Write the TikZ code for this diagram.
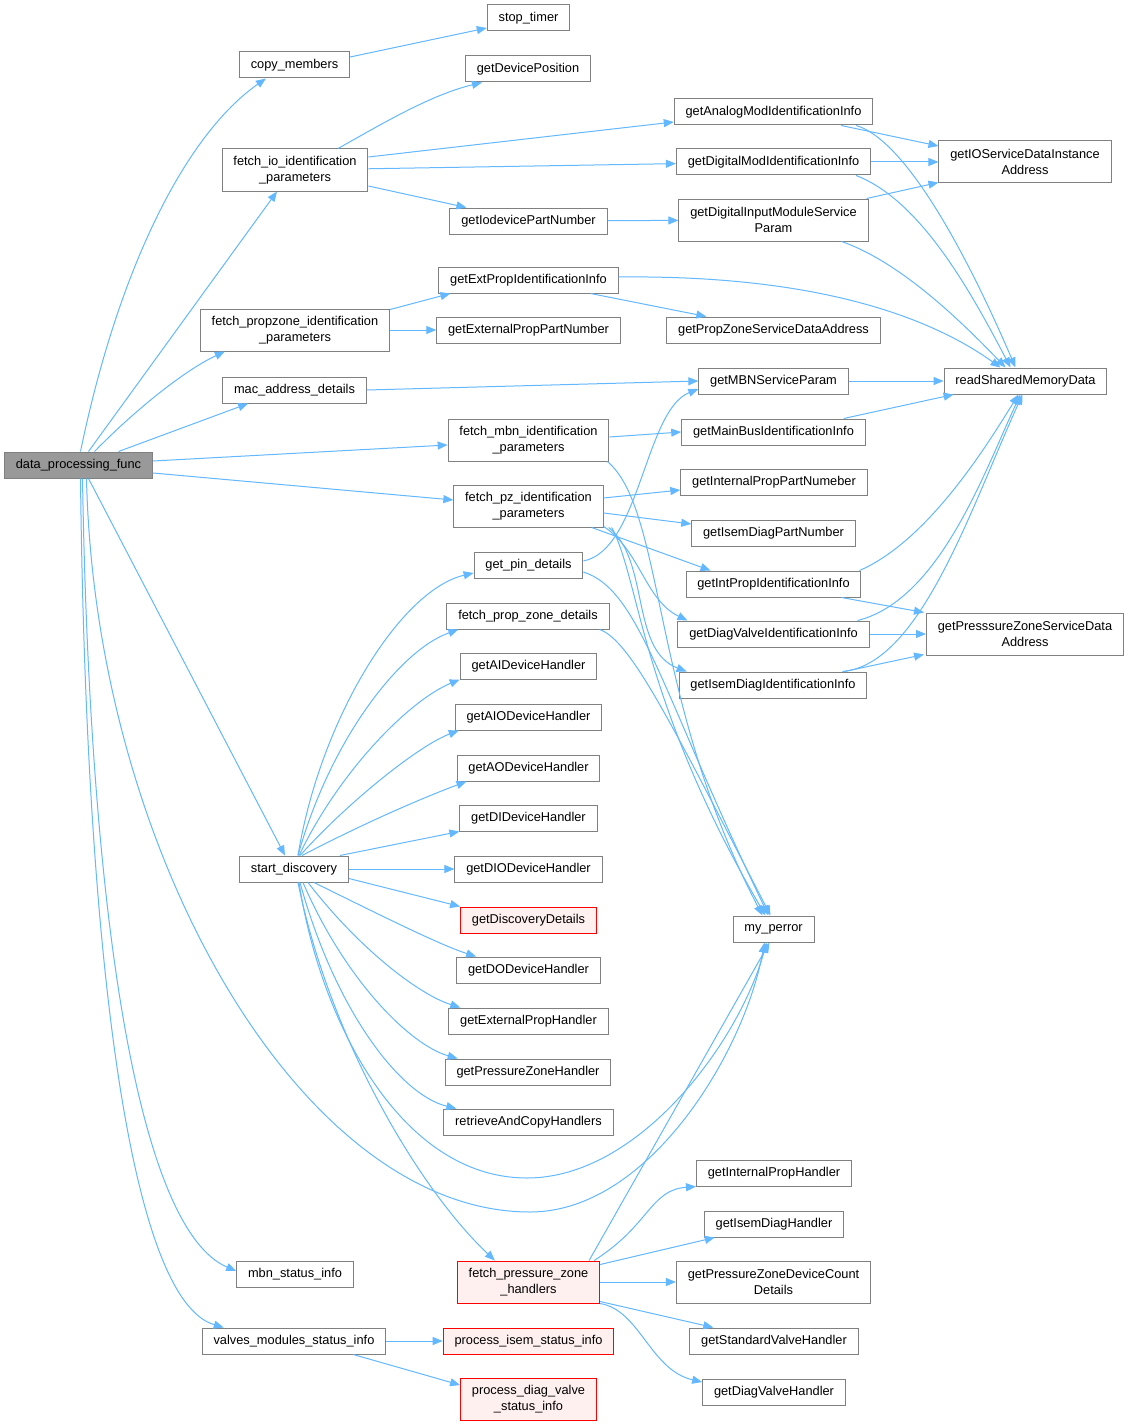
\documentclass[tikz,border=0pt]{standalone}
\usepackage{fontspec}
\setmainfont{Liberation Sans}
\usetikzlibrary{calc}
\usetikzlibrary{positioning}
\usetikzlibrary{arrows.meta}

\definecolor{edgeblue}{HTML}{63B8FF}
\definecolor{boxgray}{HTML}{808080}
\definecolor{rootgray}{HTML}{999999}
\definecolor{errfill}{HTML}{FFF0F0}

\tikzset{
  fn/.style={rectangle,draw=boxgray,fill=white,line width=0.75pt,inner xsep=8.5pt,inner ysep=0pt,
    minimum height=19.5pt,align=center,font=\fontsize{9.6}{12}\selectfont},
  fn2/.style={fn,minimum height=31.5pt},
  root/.style={fn,fill=rootgray},
  undoc/.style={draw=red,fill=errfill},
  call/.style={color=edgeblue,line width=0.75pt,-{Triangle[length=7.5pt,width=6pt]}}
}

\begin{document}
\begin{tikzpicture}[x=0.75pt,y=-0.75pt]
\path[use as bounding box,fill=white] (0,0) rectangle (1128,1427);

\node[root] (dpf) at (78.5,465) {data\_processing\_func};
\node[fn] (copym) at (294.5,65) {copy\_members};
\node[fn] (stopt) at (528.5,18) {stop\_timer};
\node[fn] (getpos) at (528,69) {getDevicePosition};
\node[fn2] (fetchio) at (295,170) {fetch\_io\_identification\\\_parameters};
\node[fn] (analog) at (773.5,112) {getAnalogModIdentificationInfo};
\node[fn] (digital) at (773.5,162) {getDigitalModIdentificationInfo};
\node[fn2] (ioserv) at (1025,162) {getIOServiceDataInstance\\Address};
\node[fn] (iodev) at (528.5,221) {getIodevicePartNumber};
\node[fn2] (dinput) at (773.5,220) {getDigitalInputModuleService\\Param};
\node[fn] (extprop) at (528.5,280) {getExtPropIdentificationInfo};
\node[fn2] (fetchprop) at (295,330) {fetch\_propzone\_identification\\\_parameters};
\node[fn] (extpart) at (528.5,330) {getExternalPropPartNumber};
\node[fn] (propzone) at (773.5,330) {getPropZoneServiceDataAddress};
\node[fn] (mac) at (294.5,390) {mac\_address\_details};
\node[fn] (mbnserv) at (773.5,381) {getMBNServiceParam};
\node[fn] (readshm) at (1025.5,381) {readSharedMemoryData};
\node[fn2] (fetchmbn) at (528.5,440) {fetch\_mbn\_identification\\\_parameters};
\node[fn] (mainbus) at (773.5,432) {getMainBusIdentificationInfo};
\node[fn] (intpart) at (774,482) {getInternalPropPartNumeber};
\node[fn2] (fetchpz) at (528.5,506) {fetch\_pz\_identification\\\_parameters};
\node[fn] (isempart) at (773.5,533) {getIsemDiagPartNumber};
\node[fn] (pin) at (528.5,565) {get\_pin\_details};
\node[fn] (intprop) at (773.5,584) {getIntPropIdentificationInfo};
\node[fn] (fpzd) at (528,616) {fetch\_prop\_zone\_details};
\node[fn] (diagvalve) at (773.5,634) {getDiagValveIdentificationInfo};
\node[fn2] (pzserv) at (1025,634) {getPresssureZoneServiceData\\Address};
\node[fn] (isemdiag) at (773,685) {getIsemDiagIdentificationInfo};
\node[fn] (aidev) at (528.5,666) {getAIDeviceHandler};
\node[fn] (aiodev) at (528.5,717) {getAIODeviceHandler};
\node[fn] (aodev) at (528.5,768) {getAODeviceHandler};
\node[fn] (didev) at (528.5,818) {getDIDeviceHandler};
\node[fn] (startd) at (294,869) {start\_discovery};
\node[fn] (diodev) at (528.5,869) {getDIODeviceHandler};
\node[fn,undoc] (discdet) at (528.5,920) {getDiscoveryDetails};
\node[fn] (perror) at (773.5,929) {my\_perror};
\node[fn] (dodev) at (528.5,970) {getDODeviceHandler};
\node[fn] (extph) at (528.5,1021) {getExternalPropHandler};
\node[fn] (pzh) at (528,1072) {getPressureZoneHandler};
\node[fn] (racp) at (528.5,1122) {retrieveAndCopyHandlers};
\node[fn] (intph) at (774,1173) {getInternalPropHandler};
\node[fn] (isemh) at (774,1224) {getIsemDiagHandler};
\node[fn2,undoc] (fpzh) at (528.5,1282) {fetch\_pressure\_zone\\\_handlers};
\node[fn2] (pzdc) at (773.5,1282) {getPressureZoneDeviceCount\\Details};
\node[fn] (mbnst) at (295,1274) {mbn\_status\_info};
\node[fn] (valves) at (294,1341) {valves\_modules\_status\_info};
\node[fn,undoc] (isemst) at (528.5,1341) {process\_isem\_status\_info};
\node[fn] (stdvh) at (774,1341) {getStandardValveHandler};
\node[fn2,undoc] (diagst) at (528.5,1399) {process\_diag\_valve\\\_status\_info};
\node[fn] (diagvh) at (774,1392) {getDiagValveHandler};

\draw[call] ($(dpf.north)+(2,0)$) .. controls (118,270) and (185,135) .. ($(copym.south west)+(27,0)$);
\draw[call] ($(dpf.north)+(10,0)$) -- ($(fetchio.south)+(-18,0)$);
\draw[call] ($(dpf.north)+(16,0)$) .. controls (135,410) and (185,370) .. ($(fetchprop.south west)+(25,0)$);
\draw[call] ($(dpf.north)+(40,0)$) -- ($(mac.south west)+(26,0)$);
\draw[call] ($(dpf.east)+(0,-4)$) -- ($(fetchmbn.west)+(0,5)$);
\draw[call] ($(dpf.east)+(0,8)$) -- ($(fetchpz.west)+(0,-6)$);
\draw[call] ($(dpf.south)+(10,0)$) -- ($(startd.north)+(-9,0)$);
\draw[call] ($(dpf.south)+(8,0)$) .. controls (95,850) and (300,1212) .. (530,1212)
  .. controls (650,1212) and (745,1050) .. ($(perror.south)+(-9,0)$);
\draw[call] ($(dpf.south)+(4,0)$) .. controls (90,930) and (140,1230) .. ($(mbnst.west)+(0,-3)$);
\draw[call] ($(dpf.south)+(2,0)$) .. controls (86,960) and (130,1300) .. ($(valves.north west)+(22,0)$);

\draw[call] ($(copym.east)+(0,-8)$) -- ($(stopt.west)+(0,10)$);

\draw[call] ($(fetchio.north)+(43,0)$) .. controls (380,125) and (430,95) .. ($(getpos.south west)+(17,0)$);
\draw[call] ($(fetchio.east)+(0,-13)$) -- ($(analog.west)+(0,10)$);
\path[call] (fetchio) edge (digital);
\draw[call] ($(fetchio.east)+(0,16)$) -- ($(iodev.north west)+(17,0)$);
\path[call] (iodev) edge (dinput);

\draw[call] ($(analog.south east)+(-32,0)$) -- ($(ioserv.west)+(0,-16)$);
\draw[call] ($(analog.south east)+(-17,0)$) .. controls (905,140) and (965,250) .. ($(readshm.north)+(-10,0)$);
\path[call] (digital) edge (ioserv);
\draw[call] ($(digital.south east)+(-15,0)$) .. controls (920,200) and (970,290) .. ($(readshm.north)+(-15,0)$);
\draw[call] ($(dinput.north east)+(-2,0)$) -- ($(ioserv.south west)+(0,-1)$);
\draw[call] ($(dinput.south east)+(-27,0)$) .. controls (900,262) and (960,320) .. ($(readshm.north)+(-20,0)$);

\draw[call] ($(fetchprop.north east)+(0,1)$) -- ($(extprop.south west)+(12,0)$);
\path[call] (fetchprop) edge (extpart);
\draw[call] ($(extprop.east)+(0,-3)$) .. controls (800,275) and (920,310) .. ($(readshm.north)+(-25,0)$);
\draw[call] ($(extprop.south east)+(-28,0)$) -- ($(propzone.north west)+(40,0)$);

\path[call] (mac.east) edge (mbnserv.west);
\path[call] (mbnserv) edge (readshm);

\draw[call] ($(fetchmbn.east)+(0,-3)$) -- (mainbus.west);
\draw[call] ($(fetchmbn.south east)+(-2,0)$) .. controls (665,510) and (650,700) .. ($(perror.north)+(-11,0)$);
\draw[call] ($(mainbus.north east)+(-22,0)$) -- ($(readshm.south west)+(10,0)$);

\draw[call] ($(fetchpz.east)+(0,-8)$) -- ($(intpart.west)+(0,8)$);
\draw[call] ($(fetchpz.east)+(0,7)$) -- ($(isempart.west)+(0,-9)$);
\draw[call] ($(fetchpz.south east)+(-12,0)$) -- ($(intprop.north west)+(25,0)$);
\draw[call] ($(fetchpz.south east)+(0,-1)$) .. controls (640,550) and (645,600) .. ($(diagvalve.north west)+(10,0)$);
\draw[call] ($(fetchpz.south east)+(5,0)$) .. controls (650,560) and (630,650) .. ($(isemdiag.north west)+(8,0)$);
\draw[call] ($(fetchpz.south east)+(8,0)$) .. controls (640,580) and (640,700) .. ($(perror.north)+(-8,0)$);

\draw[call] ($(pin.east)+(0,-4)$) .. controls (640,550) and (645,410) .. ($(mbnserv.west)+(0,8)$);
\draw[call] ($(pin.east)+(0,7)$) .. controls (640,590) and (660,690) .. ($(perror.north)+(-5,0)$);
\draw[call] ($(fpzd.south east)+(-10,0)$) .. controls (630,640) and (670,720) .. ($(perror.north)+(-3,0)$);

\draw[call] ($(intprop.north east)+(-2,0)$) .. controls (930,540) and (990,440) .. ($(readshm.south)+(-7,0)$);
\draw[call] ($(intprop.south east)+(-20,0)$) -- ($(pzserv.north west)+(-2,0)$);
\draw[call] ($(diagvalve.north east)+(-12,0)$) .. controls (940,600) and (985,470) .. ($(readshm.south)+(-5,0)$);
\path[call] (diagvalve) edge (pzserv);
\draw[call] ($(isemdiag.north east)+(-25,0)$) .. controls (920,665) and (970,510) .. ($(readshm.south)+(-3,0)$);
\draw[call] ($(isemdiag.north east)+(-23,0)$) -- ($(pzserv.south west)+(-2,-1)$);

\draw[call] ($(startd.north)+(4,0)$) .. controls (320,720) and (400,590) .. ($(pin.west)+(0,8)$);
\draw[call] ($(startd.north)+(4,0)$) .. controls (330,740) and (400,650) .. ($(fpzd.south west)+(12,0)$);
\draw[call] ($(startd.north)+(5,0)$) .. controls (340,770) and (410,700) .. (aidev.south west);
\draw[call] ($(startd.north)+(6,0)$) .. controls (350,800) and (420,745) .. ($(aiodev.south west)+(4,0)$);
\draw[call] ($(startd.north)+(8,0)$) .. controls (370,820) and (430,795) .. ($(aodev.south west)+(10,0)$);
\draw[call] ($(startd.north east)+(-9,0)$) -- (didev.south west);
\path[call] (startd) edge (diodev);
\draw[call] ($(startd.south east)+(0,-4)$) -- (discdet.north west);
\draw[call] ($(startd.south)+(20,0)$) .. controls (380,915) and (440,945) .. ($(dodev.north west)+(20,0)$);
\draw[call] ($(startd.south)+(14,0)$) .. controls (360,950) and (420,995) .. ($(extph.north west)+(12,0)$);
\draw[call] ($(startd.south)+(9,0)$) .. controls (345,980) and (410,1045) .. ($(pzh.north west)+(13,0)$);
\draw[call] ($(startd.south)+(6,0)$) .. controls (335,1010) and (400,1095) .. ($(racp.north west)+(13,0)$);
\draw[call] ($(startd.south)+(4,0)$) .. controls (330,1040) and (420,1190) .. ($(fpzh.north west)+(38,0)$);
\draw[call] ($(startd.south)+(5,0)$) .. controls (320,1020) and (400,1178) .. (527,1178)
  .. controls (640,1178) and (740,1040) .. ($(perror.south)+(-7,0)$);

\draw[call] ($(fpzh.north east)+(-11,0)$) -- ($(perror.south)+(-4,0)$);
\draw[call] ($(fpzh.north east)+(-6,0)$) .. controls (650,1225) and (650,1190) .. (intph.south west);
\draw[call] ($(fpzh.north east)+(0,4)$) -- ($(isemh.south west)+(11,0)$);
\path[call] (fpzh) edge (pzdc);
\draw[call] ($(fpzh.south east)+(0,-2)$) -- ($(stdvh.north west)+(24,0)$);
\draw[call] (fpzh.south east) .. controls (640,1310) and (650,1370) .. ($(diagvh.west)+(0,-10)$);

\path[call] (valves) edge (isemst);
\draw[call] ($(valves.south east)+(-33,0)$) -- ($(diagst.west)+(0,-14)$);
\end{tikzpicture}
\end{document}
